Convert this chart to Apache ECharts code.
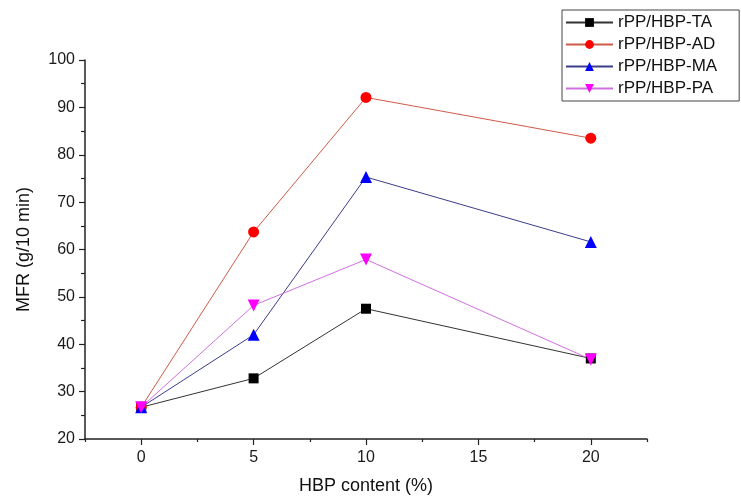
<!DOCTYPE html>
<html>
<head>
<meta charset="utf-8">
<script src="https://cdn.jsdelivr.net/npm/echarts@6/dist/echarts.min.js"></script>
<style>
	html, body { margin: 0; padding: 0; background: #fff; }
	#chart { width: 741px; height: 500px; }
</style>
</head>
<body>
<div id="chart"></div>
<script>
var hbpContent = [0, 5, 10, 20];
var mfrTA = [26.7, 32.8, 47.5, 37.0];
var mfrAD = [26.7, 63.7, 92.1, 83.5];
var mfrMA = [26.7, 42.0, 75.3, 61.6];
var mfrPA = [26.7, 48.2, 57.9, 36.8];
var xMajorTicks = [0, 5, 10, 15, 20];
var xMinorTicks = [-2.5, 2.5, 7.5, 12.5, 17.5, 22.5];

var font = 'Liberation Sans';
var myChart = echarts.init(document.getElementById('chart'));

function pairs(ys) {
	var out = [];
	hbpContent.forEach(function(x, i) {
		out.push([x, ys[i]]);
	});
	return out;
}

function makeSeries(name, ys, symbol, size, markerColor, lineColor, rotate) {
	return {
		name: name,
		type: 'line',
		xAxisIndex: 0,
		data: pairs(ys),
		symbol: symbol,
		symbolSize: size,
		symbolRotate: rotate || 0,
		showSymbol: true,
		itemStyle: { color: markerColor },
		lineStyle: { color: lineColor, width: 1 },
		emphasis: { disabled: true },
		z: 2
	};
}

var option = {
	animation: false,
	backgroundColor: '#fff',
	grid: { left: 85, right: 94, top: 60, bottom: 60, containLabel: false },
	legend: {
		orient: 'vertical',
		left: 562,
		top: 10,
		padding: [4, 22, 4, 3],
		borderColor: '#444',
		borderWidth: 1,
		itemWidth: 47,
		itemHeight: 11,
		itemGap: 5,
		textStyle: { fontFamily: font, fontSize: 17, color: '#111' },
		data: ['rPP/HBP-TA', 'rPP/HBP-AD', 'rPP/HBP-MA', 'rPP/HBP-PA']
	},
	xAxis: [{
		type: 'value',
		min: -2.5,
		max: 22.5,
		name: 'HBP content (%)',
		nameLocation: 'middle',
		nameGap: 38,
		nameTextStyle: { fontFamily: font, fontSize: 18, color: '#111' },
		splitLine: { show: false },
		axisLine: { show: true, onZero: false, lineStyle: { color: '#222', width: 1.5 } },
		axisTick: { show: true, length: 6, customValues: xMajorTicks, lineStyle: { color: '#222', width: 1.2 } },
		axisLabel: { customValues: xMajorTicks, margin: 11, fontFamily: font, fontSize: 16, color: '#1a1a1a' }
	}, {
		type: 'value',
		min: -2.5,
		max: 22.5,
		position: 'bottom',
		splitLine: { show: false },
		axisLine: { show: false },
		axisTick: { show: true, length: 3, customValues: xMinorTicks, lineStyle: { color: '#222', width: 1.2 } },
		axisLabel: { show: false }
	}],
	yAxis: {
		type: 'value',
		min: 20,
		max: 100,
		interval: 10,
		name: 'MFR (g/10 min)',
		nameLocation: 'middle',
		nameGap: 52,
		nameTextStyle: { fontFamily: font, fontSize: 18, color: '#111' },
		splitLine: { show: false },
		axisLine: { show: true, onZero: false, lineStyle: { color: '#222', width: 1.5 } },
		axisTick: { show: true, length: 6, lineStyle: { color: '#222', width: 1.2 } },
		minorTick: { show: true, splitNumber: 2, length: 4, lineStyle: { color: '#222', width: 1.2 } },
		axisLabel: { margin: 10, fontFamily: font, fontSize: 16, color: '#1a1a1a' }
	},
	series: [
		makeSeries('rPP/HBP-TA', mfrTA, 'rect', 10, '#000000', '#333333'),
		makeSeries('rPP/HBP-AD', mfrAD, 'circle', 11, '#ff0000', '#d05a48'),
		makeSeries('rPP/HBP-MA', mfrMA, 'triangle', 12, '#0000ff', '#3c3c8c'),
		makeSeries('rPP/HBP-PA', mfrPA, 'triangle', 12, '#ff00ff', '#d070e0', 180)
	]
};
myChart.setOption(option);
</script>
</body>
</html>
